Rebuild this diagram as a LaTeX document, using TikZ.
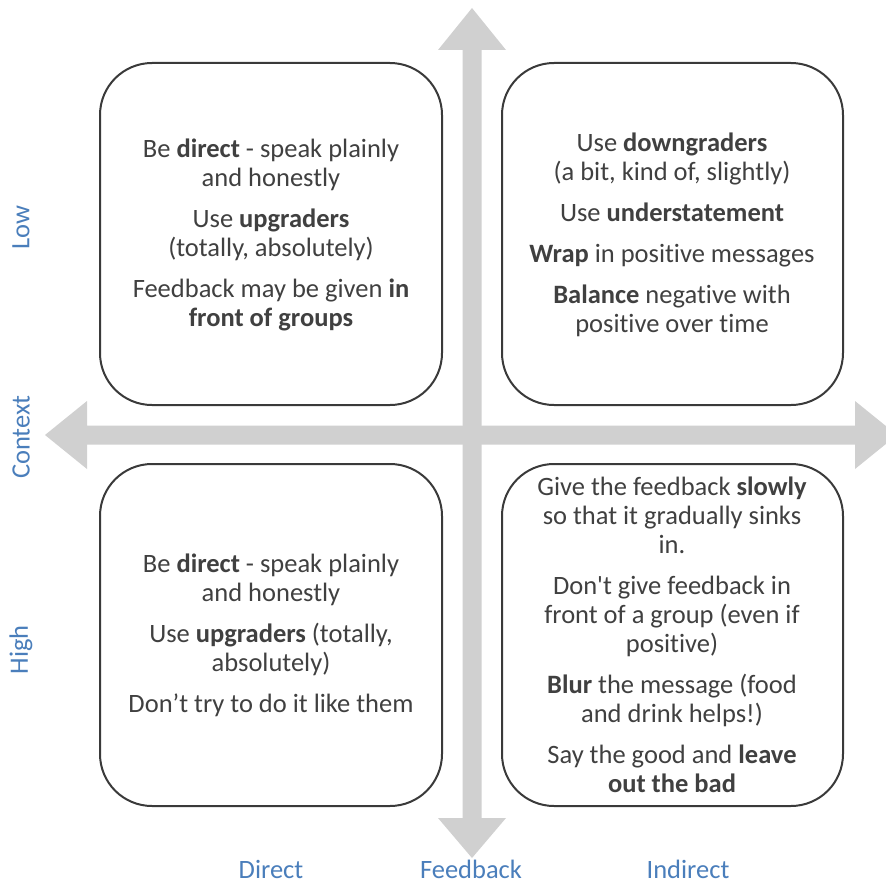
\documentclass[tikz,border=0pt]{standalone}
\usepackage{fontspec}
\setmainfont{Carlito}[Ligatures=NoCommon]
\newfontfamily\plainapos{Carlito}
\newcommand{\sq}{{\plainapos'}}
% keep "t" and "i" as separate glyphs
\newcommand{\tiSep}{t\kern0pt i}
\definecolor{arrowgray}{HTML}{D0D0D0}
\definecolor{boxline}{HTML}{3A3A3A}
\definecolor{bodytext}{HTML}{404040}
\definecolor{axisblue}{HTML}{4A7EBB}
\tikzset{
  quadbox/.style={draw=boxline, line width=2pt, fill=white, rounded corners=52pt},
  quadtext/.style={align=center, text=bodytext, font=\fontsize{26.5}{29}\selectfont, inner sep=0pt},
  axislabel/.style={text=axisblue, font=\fontsize{26.5}{30}\selectfont, inner sep=0pt},
}
\begin{document}
\begin{tikzpicture}[x=1pt, y=-1pt]
\useasboundingbox (0,0) rectangle (886,883);

% axes: two double-headed block arrows
\fill[arrowgray] (472,8) -- (506,50) -- (481.5,50) -- (481.5,818) -- (506,818) -- (472,858)
  -- (438,818) -- (462.5,818) -- (462.5,50) -- (438,50) -- cycle;
\begin{scope}
\clip (0,0) rectangle (886,883);
\fill[arrowgray] (45,435) -- (87,401) -- (87,425.5) -- (855,425.5) -- (855,401) -- (897,435)
  -- (855,469) -- (855,444.5) -- (87,444.5) -- (87,469) -- cycle;
\end{scope}

% quadrant boxes
\draw[quadbox] (100,63) rectangle (442,405);
\draw[quadbox] (502,63) rectangle (843,405);
\draw[quadbox] (100,464) rectangle (442,806);
\draw[quadbox] (502,464) rectangle (843,806);

% quadrant texts
\node[quadtext] (tl) at (271,235) {Be \textbf{direct} - speak plainly\\and honestly\\[12pt]
  Use \textbf{upgraders}\\(totally, absolutely)\\[12pt]
  Feedback may be given \textbf{in}\\\textbf{front of groups}};
\node[quadtext] (tr) at (672,235) {Use \textbf{downgraders}\\(a bit, kind of, slightly)\\[12pt]
  Use \textbf{understatement}\\[12pt]
  \textbf{Wrap} in posi\tiSep ve messages\\[12pt]
  \textbf{Balance} nega\tiSep ve with\\posi\tiSep ve over \tiSep me};
\node[quadtext] (bl) at (271,635) {Be \textbf{direct} - speak plainly\\and honestly\\[12pt]
  Use \textbf{upgraders} (totally,\\absolutely)\\[12pt]
  Don’t try to do it like them};
\node[quadtext] (br) at (672,635) {Give the feedback \textbf{slowly}\\so that it gradually sinks\\in.\\[12pt]
  Don\sq t give feedback in\\front of a group (even if\\posi\tiSep ve)\\[12pt]
  \textbf{Blur} the message (food\\and drink helps!)\\[12pt]
  Say the good and \textbf{leave}\\\textbf{out the bad}};

% axis labels
\node[axislabel, rotate=90] (low) at (21,228) {Low};
\node[axislabel, rotate=90] (context) at (21,437) {Context};
\node[axislabel, rotate=90] (high) at (21,650) {High};
\node[axislabel, anchor=base, text depth=0pt] (direct) at (271,878) {Direct};
\node[axislabel, anchor=base, text depth=0pt] (feedback) at (471,878) {Feedback};
\node[axislabel, anchor=base, text depth=0pt] (indirect) at (688,878) {Indirect};
\end{tikzpicture}
\end{document}
